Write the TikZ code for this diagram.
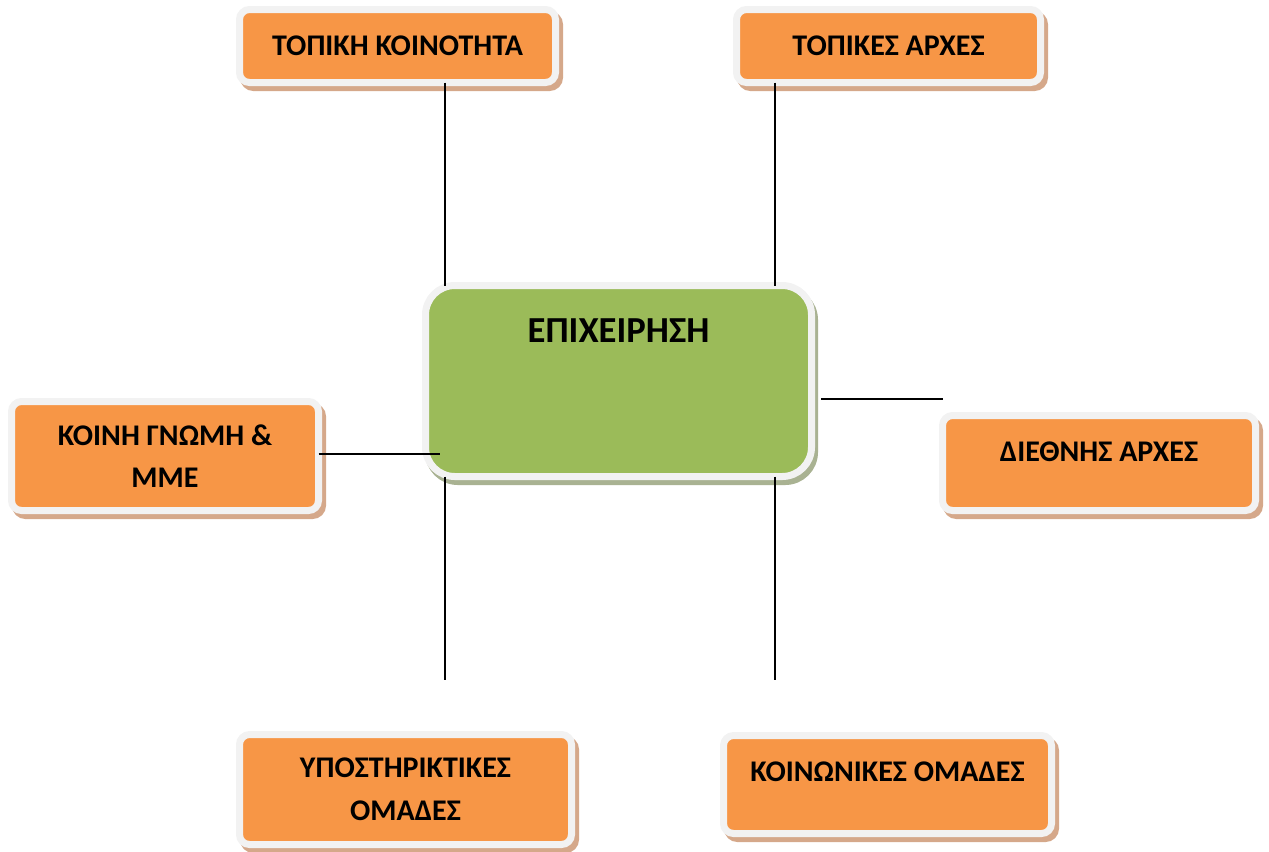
\documentclass[tikz,border=0pt]{standalone}
\usepackage{fontspec}
\setmainfont{Carlito}
\definecolor{boxorange}{HTML}{F79646}
\definecolor{boxgreen}{HTML}{9BBB59}
\definecolor{framegray}{HTML}{F2F2F2}
\definecolor{oshadow}{HTML}{D5A88A}
\definecolor{gshadow}{HTML}{A9B292}
\begin{document}
\begin{tikzpicture}[x=0.75pt,y=-0.75pt,
  sz/.style 2 args={minimum width=#1*0.75pt, minimum height=#2*0.75pt},
  panel/.style={draw=framegray, line width=5.25pt, outer sep=0pt, inner sep=0pt,
    align=center, font=\bfseries\fontsize{22.5}{32}\selectfont},
  obox/.style={panel, fill=boxorange, rounded corners=7.5pt,
    preaction={fill=oshadow, draw=oshadow, transform canvas={xshift=3pt,yshift=-3.75pt}}},
  gbox/.style={panel, fill=boxgreen, rounded corners=22pt,
    font=\bfseries\fontsize{27.5}{32}\selectfont,
    preaction={fill=gshadow, draw=gshadow, transform canvas={xshift=2.25pt,yshift=-3.75pt}}},
  raised/.style={text height=14.5pt, text depth=#1},
  link/.style={draw=black, line width=1.5pt}]
\useasboundingbox (0,0) rectangle (1269,851);

% central company box
\node[gbox, sz={386}{191}, text height=17.7pt, text depth=75pt] (firm) at (618.5,381) {ΕΠΙΧΕΙΡΗΣΗ};

% stakeholder boxes
\node[obox, sz={316}{73}] (community) at (397.5,46) {ΤΟΠΙΚΗ ΚΟΙΝΟΤΗΤΑ};
\node[obox, sz={304}{73}] (local) at (888.5,46) {ΤΟΠΙΚΕΣ ΑΡΧΕΣ};
\node[obox, sz={307}{109}] (media) at (165,456) {ΚΟΙΝΗ ΓΝΩΜΗ \&\\ΜΜΕ};
\node[obox, sz={313}{95}, raised=16.5pt] (intl) at (1099,463) {ΔΙΕΘΝΗΣ ΑΡΧΕΣ};
\node[obox, sz={332}{110}] (support) at (405.5,789.5) {ΥΠΟΣΤΗΡΙΚΤΙΚΕΣ\\ΟΜΑΔΕΣ};
\node[obox, sz={328}{98}, raised=18.75pt] (social) at (887.5,784.5) {ΚΟΙΝΩΝΙΚΕΣ ΟΜΑΔΕΣ};

% loose ends of the connectors
\coordinate (mediaEnd) at (440,454);
\coordinate (intlStart) at (821,399);
\coordinate (intlEnd) at (943,399);
\coordinate (supportEnd) at (445,680);
\coordinate (socialEnd) at (775,680);

% connectors
\draw[link] (community.south -| 445,0) -- (firm.north -| 445,0);
\draw[link] (local.south -| 775,0) -- (firm.north -| 775,0);
\draw[link] (media.east |- mediaEnd) -- (mediaEnd);
\draw[link] (intlStart) -- (intlEnd);
\draw[link] (firm.south -| supportEnd) -- (supportEnd);
\draw[link] (firm.south -| socialEnd) -- (socialEnd);
\end{tikzpicture}
\end{document}
